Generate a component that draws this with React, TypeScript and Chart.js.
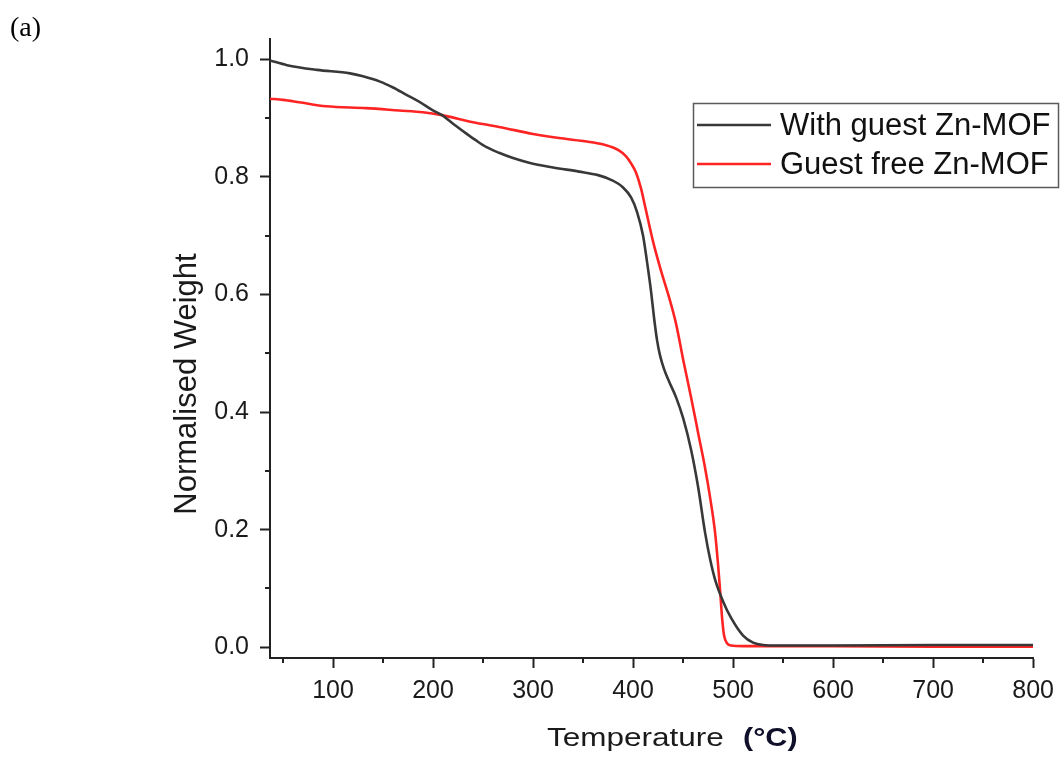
import React, { useEffect, useRef } from "react";
import { Chart, registerables } from "chart.js";

Chart.register(...registerables);

// ---- data ----
const guestTemps = [37, 54, 84, 117, 130, 147, 160, 173, 186, 199, 209, 221, 233, 243, 253, 266, 280, 296, 320, 346, 365, 378, 390, 398, 404, 410, 414, 418, 421, 424, 427, 431, 436, 443, 450, 458, 465, 472, 477, 482, 490, 498, 510, 520, 530, 545, 600, 700, 800];
const guestWeights = [0.998, 0.99, 0.982, 0.976, 0.971, 0.962, 0.952, 0.94, 0.928, 0.914, 0.905, 0.889, 0.874, 0.862, 0.851, 0.841, 0.832, 0.824, 0.816, 0.809, 0.803, 0.795, 0.782, 0.765, 0.74, 0.7, 0.655, 0.605, 0.56, 0.522, 0.496, 0.473, 0.452, 0.425, 0.39, 0.336, 0.273, 0.195, 0.15, 0.115, 0.078, 0.05, 0.02, 0.008, 0.004, 0.003, 0.003, 0.004, 0.004];

const freeTemps = [37, 50, 66, 93, 133, 166, 190, 209, 240, 266, 300, 326, 350, 373, 385, 393, 398, 403, 408, 412, 420, 428, 436, 443, 450, 458, 465, 472, 477, 482, 485, 487, 489, 491, 494, 498, 510, 600, 700, 800];
const freeWeights = [0.933, 0.931, 0.927, 0.92, 0.917, 0.913, 0.91, 0.905, 0.893, 0.885, 0.873, 0.866, 0.861, 0.854, 0.846, 0.835, 0.823, 0.807, 0.78, 0.75, 0.69, 0.64, 0.595, 0.55, 0.49, 0.425, 0.365, 0.305, 0.255, 0.195, 0.14, 0.097, 0.05, 0.02, 0.007, 0.003, 0.002, 0.002, 0.001, 0.001];

const xTickValues = [100, 200, 300, 400, 500, 600, 700, 800];
const xMinorTicks = [50, 150, 250, 350, 450, 550, 650, 750];
const yTickValues = [0, 0.2, 0.4, 0.6, 0.8, 1.0];
const yMinorTicks = [0.1, 0.3, 0.5, 0.7, 0.9];

const seriesLabels = ["With guest Zn-MOF", "Guest free Zn-MOF"];
const seriesColors = ["#383838", "#ff2424"];
const xTitle = "Temperature";
const xUnit = "(°C)";
const yTitle = "Normalised Weight";
const panelLabel = "(a)";

const SANS = '"Liberation Sans", Arial, sans-serif';
const SERIF = '"Liberation Serif", "Times New Roman", serif';

const decorPlugin = {
  id: "decor",
  afterDraw(chart: any) {
    const { ctx, chartArea, scales } = chart;
    const xs = scales.x;
    const ys = scales.y;
    ctx.save();
    // minor ticks
    ctx.strokeStyle = "#222";
    ctx.lineWidth = 2;
    ctx.beginPath();
    xMinorTicks.forEach((v) => {
      const px = Math.round(xs.getPixelForValue(v));
      ctx.moveTo(px, chartArea.bottom);
      ctx.lineTo(px, chartArea.bottom + 5);
    });
    yMinorTicks.forEach((v) => {
      const py = Math.round(ys.getPixelForValue(v));
      ctx.moveTo(chartArea.left, py);
      ctx.lineTo(chartArea.left - 5, py);
    });
    ctx.stroke();

    // y title
    ctx.save();
    ctx.translate(196, 384);
    ctx.rotate(-Math.PI / 2);
    ctx.font = `31px ${SANS}`;
    ctx.fillStyle = "#1a1a1a";
    ctx.textAlign = "center";
    ctx.textBaseline = "alphabetic";
    ctx.fillText(yTitle, 0, 0);
    ctx.restore();

    // x title
    ctx.save();
    ctx.translate(547, 746);
    ctx.scale(1.26, 1);
    ctx.font = `25px ${SANS}`;
    ctx.fillStyle = "#1a1a1a";
    ctx.textAlign = "left";
    ctx.textBaseline = "alphabetic";
    ctx.fillText(xTitle, 0, 0);
    ctx.restore();

    ctx.save();
    ctx.translate(743, 746);
    ctx.scale(1.22, 1);
    ctx.font = `bold 25px ${SANS}`;
    ctx.fillStyle = "#10102a";
    ctx.textAlign = "left";
    ctx.textBaseline = "alphabetic";
    ctx.fillText(xUnit, 0, 0);
    ctx.restore();

    // legend
    ctx.strokeStyle = "#5a5a5a";
    ctx.lineWidth = 1.5;
    ctx.strokeRect(693.5, 103.5, 365, 84);
    const rows = [125, 164];
    chart.data.datasets.forEach((ds: any, i: number) => {
      ctx.strokeStyle = ds.borderColor;
      ctx.lineWidth = 2.6;
      ctx.beginPath();
      ctx.moveTo(697, rows[i]);
      ctx.lineTo(771, rows[i]);
      ctx.stroke();
      ctx.font = `31px ${SANS}`;
      ctx.fillStyle = "#111";
      ctx.textAlign = "left";
      ctx.textBaseline = "alphabetic";
      ctx.fillText(ds.label, 780, rows[i] + 10);
    });

    // panel label
    ctx.font = `28px ${SERIF}`;
    ctx.fillStyle = "#000";
    ctx.textAlign = "left";
    ctx.textBaseline = "alphabetic";
    ctx.fillText(panelLabel, 10, 36);
    ctx.restore();
  },
};

export default function App() {
  const canvasRef = useRef<HTMLCanvasElement | null>(null);

  useEffect(() => {
    const canvas = canvasRef.current;
    if (!canvas) return;
    const chart = new Chart(canvas, {
      type: "line",
      data: {
        datasets: [
          {
            label: seriesLabels[0],
            data: guestTemps.map((t, i) => ({ x: t, y: guestWeights[i] })),
            borderColor: seriesColors[0],
            borderWidth: 2.6,
            pointRadius: 0,
            cubicInterpolationMode: "monotone",
            fill: false,
          },
          {
            label: seriesLabels[1],
            data: freeTemps.map((t, i) => ({ x: t, y: freeWeights[i] })),
            borderColor: seriesColors[1],
            borderWidth: 2.6,
            pointRadius: 0,
            cubicInterpolationMode: "monotone",
            fill: false,
          },
        ],
      },
      options: {
        responsive: false,
        animation: false,
        layout: { padding: { left: 0, top: 39, right: 26, bottom: 0 } },
        plugins: {
          legend: { display: false },
          tooltip: { enabled: false },
        },
        scales: {
          x: {
            type: "linear",
            min: 37,
            max: 800,
            afterBuildTicks: (scale: any) => {
              scale.ticks = xTickValues.map((v) => ({ value: v }));
            },
            afterFit: (scale: any) => {
              scale.height = 762 - 658;
            },
            grid: {
              display: true,
              drawOnChartArea: false,
              drawTicks: true,
              tickLength: 10,
              tickWidth: 2,
              tickColor: "#222",
            },
            border: { display: true, width: 2, color: "#222" },
            ticks: {
              autoSkip: false,
              maxRotation: 0,
              padding: 8,
              color: "#1a1a1a",
              font: { family: SANS, size: 25 },
              callback: (v: any) => String(v),
            },
          },
          y: {
            type: "linear",
            min: -0.0182,
            max: 1.0345,
            afterBuildTicks: (scale: any) => {
              scale.ticks = yTickValues.map((v) => ({ value: v }));
            },
            afterFit: (scale: any) => {
              scale.width = 270;
            },
            grid: {
              display: true,
              drawOnChartArea: false,
              drawTicks: true,
              tickLength: 10,
              tickWidth: 2,
              tickColor: "#222",
            },
            border: { display: true, width: 2, color: "#222" },
            ticks: {
              autoSkip: false,
              padding: 11,
              color: "#1a1a1a",
              font: { family: SANS, size: 25 },
              callback: (v: any) => Number(v).toFixed(1),
            },
          },
        },
      },
      plugins: [decorPlugin],
    } as any);
    return () => chart.destroy();
  }, []);

  return (
    <div style={{ position: "absolute", left: 0, top: 0, width: 1062, height: 762, background: "#fff" }}>
      <canvas ref={canvasRef} width={1062} height={762} style={{ display: "block", width: 1062, height: 762 }} />
    </div>
  );
}
